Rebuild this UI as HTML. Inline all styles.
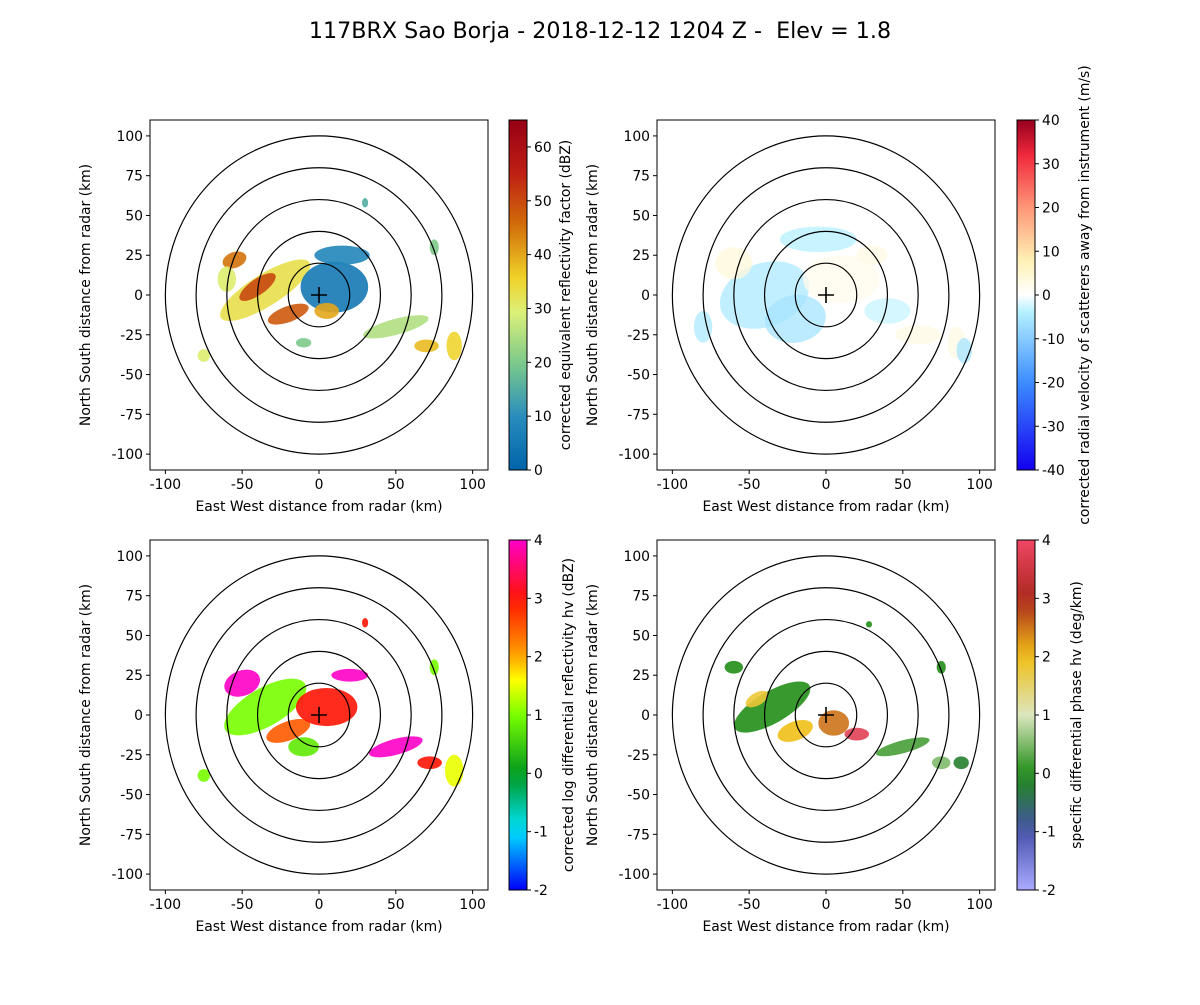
<!DOCTYPE html>
<html><head><meta charset="utf-8"><style>
body{margin:0;background:#fff;}
svg text{font-family:"DejaVu Sans","Liberation Sans",sans-serif;fill:#000;}
</style></head><body>
<svg id="fig" width="1200" height="1000" xmlns="http://www.w3.org/2000/svg">
<text x="600" y="38" font-size="22.2" text-anchor="middle" xml:space="preserve" style="white-space:pre">117BRX Sao Borja - 2018-12-12 1204 Z -  Elev = 1.8</text>
</svg>
<script>
// ring radii (km)
const ringRadii=[20,40,60,80,100];
const xTicks=[-100,-50,0,50,100];
const yTicks=[-100,-75,-50,-25,0,25,50,75,100];
// echo regions per panel: x, y, rx, ry, rotation, value
const reflX=[-35,-55,-40,-20,10,15,5,50,70,88,-75,30,75,-10,-60];
const reflY=[3,22,5,-12,5,25,-10,-20,-32,-32,-38,58,30,-30,10];
const reflRX=[34,8,14,14,22,18,8,22,8,5,4,2,3,5,6];
const reflRY=[10,5,5,5,16,6,5,5,4,9,4,3,5,3,8];
const reflRot=[-32,-20,-35,-20,0,0,0,-15,0,0,0,0,0,0,0];
const reflVal=[33,45,50,48,5,8,40,25,38,35,30,15,20,20,30];
const velX=[-40,-20,10,-60,40,60,85,-5,30,90,-80];
const velY=[0,-15,10,20,-10,-25,-30,35,25,-35,-20];
const velRX=[30,20,25,12,15,15,6,25,10,5,6];
const velRY=[20,15,15,10,8,6,10,8,6,8,10];
const velRot=[-20,-10,0,0,0,0,0,0,0,0,0];
const velVal=[-5,-6,2,4,-3,3,3,-4,3,-6,-5];
const zdrX=[-35,-50,-20,5,-10,20,50,72,88,30,-75,75];
const zdrY=[5,20,-10,5,-20,25,-20,-30,-35,58,-38,30];
const zdrRX=[30,12,15,20,10,12,18,8,6,2,4,3];
const zdrRY=[12,8,6,12,6,4,5,4,10,3,4,5];
const zdrRot=[-30,-20,-20,0,0,0,-15,0,0,0,0,0];
const zdrVal=[1.0,4,2.5,3,0.8,4,4,3,1.5,3,1,1];
const kdpX=[-35,-20,-45,5,20,50,75,88,-60,28,75];
const kdpY=[5,-10,10,-5,-12,-20,-30,-30,30,57,30];
const kdpRX=[28,12,8,10,8,18,6,5,6,2,3];
const kdpRY=[10,6,4,8,4,4,4,4,4,2,4];
const kdpRot=[-30,-20,-30,0,0,-15,0,0,0,0,0];
const kdpVal=[0.0,2,1.8,2.5,3.8,0.2,0.5,-0.2,0,0,0];

const NS='http://www.w3.org/2000/svg';
const svg=document.getElementById('fig');
function el(t,a,p){const e=document.createElementNS(NS,t);for(const k in a)e.setAttribute(k,a[k]);(p||svg).appendChild(e);return e;}
function interp(stops,t){t=Math.max(0,Math.min(1,t));for(let i=1;i<stops.length;i++){if(t<=stops[i][0]){const a=stops[i-1],b=stops[i];const f=(t-a[0])/(b[0]-a[0]||1);const c=[0,1,2].map(j=>Math.round(a[1][j]+(b[1][j]-a[1][j])*f));return `rgb(${c})`;}}const l=stops[stops.length-1][1];return `rgb(${l})`;}
const cmRefl=[[0,[0,100,170]],[0.15,[40,140,190]],[0.3,[120,200,140]],[0.45,[220,240,120]],[0.55,[240,210,40]],[0.7,[210,110,10]],[0.85,[190,30,20]],[1,[150,0,20]]];
const cmVel=[[0,[20,0,240]],[0.25,[60,140,255]],[0.45,[180,240,255]],[0.5,[255,255,255]],[0.6,[255,240,180]],[0.75,[255,150,120]],[0.9,[240,40,60]],[1,[150,0,30]]];
const cmZdr=[[0,[0,0,250]],[0.17,[0,230,255]],[0.33,[0,150,30]],[0.5,[120,255,0]],[0.6,[255,255,0]],[0.67,[255,160,0]],[0.83,[255,20,0]],[1,[255,0,200]]];
const cmKdp=[[0,[170,170,255]],[0.17,[70,80,170]],[0.33,[30,140,20]],[0.5,[220,230,190]],[0.67,[240,190,20]],[0.83,[170,40,30]],[1,[240,70,100]]];
const FS=13.9;
const panels=[
 {l:150,t:120,cbx:509,vmin:0,vmax:65,cm:cmRefl,ct:[0,10,20,30,40,50,60],lab:'corrected equivalent reflectivity factor (dBZ)',lx:570,d:[reflX,reflY,reflRX,reflRY,reflRot,reflVal],n:'reflectivity',op:0.9},
 {l:657,t:120,cbx:1017,vmin:-40,vmax:40,cm:cmVel,ct:[-40,-30,-20,-10,0,10,20,30,40],lab:'corrected radial velocity of scatterers away from instrument (m/s)',lx:1089,d:[velX,velY,velRX,velRY,velRot,velVal],n:'velocity',op:0.75},
 {l:150,t:540,cbx:509,vmin:-2,vmax:4,cm:cmZdr,ct:[-2,-1,0,1,2,3,4],lab:'corrected log differential reflectivity hv (dBZ)',lx:573,d:[zdrX,zdrY,zdrRX,zdrRY,zdrRot,zdrVal],n:'zdr',op:0.9},
 {l:657,t:540,cbx:1017,vmin:-2,vmax:4,cm:cmKdp,ct:[-2,-1,0,1,2,3,4],lab:'specific differential phase hv (deg/km)',lx:1081,d:[kdpX,kdpY,kdpRX,kdpRY,kdpRot,kdpVal],n:'kdp',op:0.9}];
const W=338,H=350;
panels.forEach((p,pi)=>{
 const sx=x=>p.l+(x+110)/220*W, sy=y=>p.t+(110-y)/220*H;
 const kx=W/220, ky=H/220;
 const g=el('g',{});
 
 
 el('clipPath',{id:'c'+pi},g); el('rect',{x:p.l,y:p.t,width:W,height:H},g.lastChild);
 const dg=el('g',{'clip-path':`url(#c${pi})`},g);
 const [X,Y,RX,RY,RO,V]=p.d;
 for(let i=0;i<X.length;i++){
  const e=el('ellipse',{cx:sx(X[i]),cy:sy(Y[i]),rx:RX[i]*kx,ry:RY[i]*ky,transform:`rotate(${RO[i]} ${sx(X[i])} ${sy(Y[i])})`,fill:interp(p.cm,(V[i]-p.vmin)/(p.vmax-p.vmin)),'fill-opacity':p.op},dg);
  
  
 }
 ringRadii.forEach(r=>{const c=el('ellipse',{cx:sx(0),cy:sy(0),rx:r*kx,ry:r*ky,fill:'none',stroke:'#000','stroke-width':1.2},dg);
  
  });
 el('path',{d:`M${sx(0)-8} ${sy(0)}h16M${sx(0)} ${sy(0)-8}v16`,stroke:'#000','stroke-width':1.6},dg);
 el('rect',{x:p.l,y:p.t,width:W,height:H,fill:'none',stroke:'#000','stroke-width':1},g);
 xTicks.forEach(v=>{el('line',{x1:sx(v),x2:sx(v),y1:p.t+H,y2:p.t+H+4,stroke:'#000'},g);const t=el('text',{x:sx(v),y:p.t+H+19,'font-size':FS,'text-anchor':'middle'},g);t.textContent=v;});
 yTicks.forEach(v=>{el('line',{x1:p.l-4,x2:p.l,y1:sy(v),y2:sy(v),stroke:'#000'},g);const t=el('text',{x:p.l-7,y:sy(v)+5,'font-size':FS,'text-anchor':'end'},g);t.textContent=v;});
 const xl=el('text',{x:p.l+W/2,y:p.t+H+41,'font-size':FS,'text-anchor':'middle'},g);xl.textContent='East West distance from radar (km)';
 
 const yl=el('text',{x:0,y:0,'font-size':FS,'text-anchor':'middle',transform:`translate(${p.l-60},${p.t+H/2}) rotate(-90)`},g);yl.textContent='North South distance from radar (km)';
 
 const gid='g'+pi;const lg=el('linearGradient',{id:gid,x1:0,y1:1,x2:0,y2:0},g);
 for(let i=0;i<=20;i++)el('stop',{offset:i/20,'stop-color':interp(p.cm,i/20)},lg);
 const cb=el('rect',{x:p.cbx,y:p.t,width:18,height:H,fill:`url(#${gid})`,stroke:'#000','stroke-width':1},g);
 
 
 p.ct.forEach(v=>{const yy=p.t+H-(v-p.vmin)/(p.vmax-p.vmin)*H;el('line',{x1:p.cbx+18,x2:p.cbx+22,y1:yy,y2:yy,stroke:'#000'},g);const t=el('text',{x:p.cbx+25,y:yy+5,'font-size':FS},g);t.textContent=v;});
 const cl=el('text',{x:0,y:0,'font-size':FS,'text-anchor':'middle',transform:`translate(${p.lx},${p.t+H/2}) rotate(-90)`},g);cl.textContent=p.lab;
 
});
</script>
</body></html>
